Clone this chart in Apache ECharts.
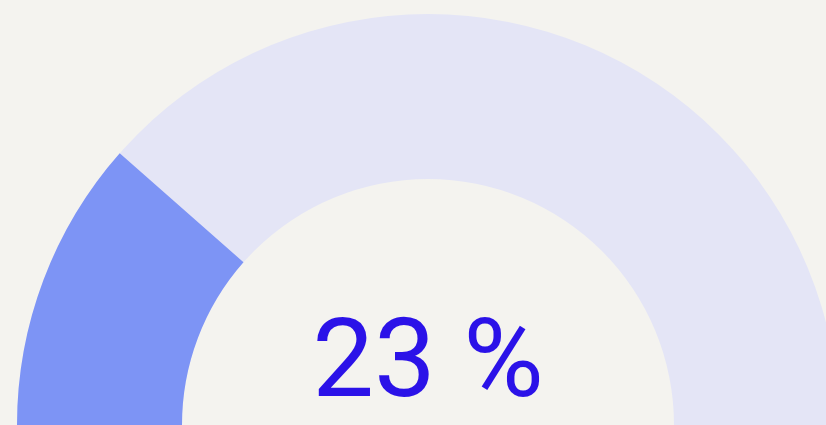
<!DOCTYPE html>
<html>
<head>
<meta charset="utf-8">
<script src="https://cdn.jsdelivr.net/npm/echarts@6/dist/echarts.min.js"></script>
<style>
html,body{margin:0;padding:0;background:#f4f3ef;}
#c{width:826px;height:425px;}
</style>
</head>
<body>
<div id="c"></div>
<script>
const gaugeMin = 0;
const gaugeMax = 100;
const gaugeValue = [23];
const valueSuffix = ' %';

const chart = echarts.init(document.getElementById('c'), null, {renderer: 'canvas'});
chart.setOption({
  backgroundColor: '#f4f3ef',
  animation: false,
  series: [{
    type: 'gauge',
    center: [428, 425],
    radius: 411,
    startAngle: 180,
    endAngle: 0,
    min: gaugeMin,
    max: gaugeMax,
    axisLine: { lineStyle: { width: 165, color: [[1, '#e4e5f6']] } },
    progress: { show: true, width: 165, itemStyle: { color: '#7d94f5' } },
    pointer: { show: false },
    anchor: { show: false },
    splitLine: { show: false },
    axisTick: { show: false },
    axisLabel: { show: false },
    title: { show: false },
    detail: {
      valueAnimation: false,
      formatter: function (v) { return v + valueSuffix; },
      offsetCenter: [0, -57],
      fontSize: 110,
      fontFamily: 'Roboto, Liberation Sans, Arial, sans-serif',
      fontWeight: 'normal',
      color: '#2b12e8'
    },
    data: [{ value: gaugeValue[0] }]
  }]
});
</script>
</body>
</html>
